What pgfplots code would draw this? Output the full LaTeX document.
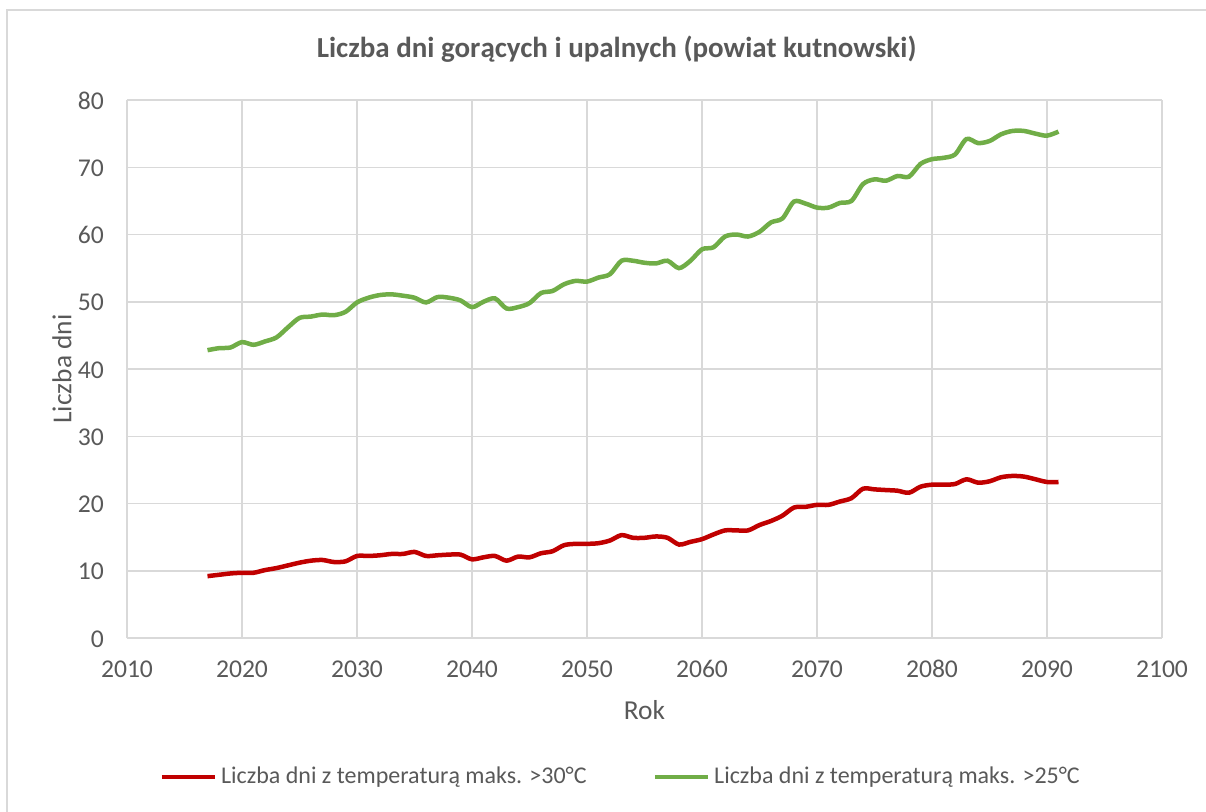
\documentclass[border=0pt]{standalone}
\usepackage{fontspec}
\setmainfont{Carlito}[Numbers=Lining]
\usepackage{pgfplots}
\pgfplotsset{compat=1.18}
\definecolor{txtgray}{HTML}{595959}
\definecolor{gridgray}{HTML}{D9D9D9}
\definecolor{hotred}{HTML}{C00000}
\definecolor{warmgreen}{HTML}{70AD47}

\begin{document}
\begin{tikzpicture}
  % page = 1206 x 811 px, 1 px = 0.5pt
  \useasboundingbox (0pt,0pt) rectangle (603pt,405.5pt);
  \draw[gridgray, line width=0.75pt] (3.5pt,-10pt) -- (3.5pt,400.5pt) -- (615pt,400.5pt);
  \begin{axis}[
      at={(63.5pt,86.5pt)}, anchor=south west,
      scale only axis,
      width=517.5pt, height=269pt,
      xmin=2010, xmax=2100, ymin=0, ymax=80,
      xtick={2010,2020,...,2100},
      ytick={0,10,...,80},
      grid=major,
      major grid style={gridgray, line width=0.75pt},
      axis line style={gridgray, line width=0.75pt},
      axis x line*=bottom, axis y line*=left,
      tick style={draw=none},
      tick label style={font=\fontsize{12.8}{15}\selectfont, text=txtgray},
      /pgf/number format/assume math mode=true,
      /pgf/number format/1000 sep={},
      xticklabel style={yshift=-7pt, text height=9pt, text depth=0pt},
      yticklabel style={xshift=-8pt, text height=9pt, text depth=0pt},
      xlabel={Rok}, ylabel={Liczba dni},
      label style={font=\fontsize{13.7}{16}\selectfont, text=txtgray},
      xlabel style={at={(rel axis cs:0.5,-0.134)}, anchor=center},
      ylabel style={at={(rel axis cs:-0.0628,0.5)}, anchor=center},
      legend columns=2,
      legend style={at={(0.478,-0.258)}, anchor=center, draw=none, fill=none,
        font=\fontsize{12}{14}\selectfont, text=txtgray,
        /tikz/every even column/.append style={column sep=31pt}},
      legend image code/.code={\draw[#1, line width=2.25pt] (0pt,0pt) -- (26.5pt,0pt);},
      clip=false,
    ]
    \addplot[hotred, line width=2.25pt, smooth] coordinates {
      (2017,9.2) (2018,9.4) (2019,9.6) (2020,9.7) (2021,9.7) (2022,10.1)
      (2023,10.4) (2024,10.8) (2025,11.2) (2026,11.5) (2027,11.6) (2028,11.3)
      (2029,11.4) (2030,12.2) (2031,12.2) (2032,12.3) (2033,12.5) (2034,12.5)
      (2035,12.8) (2036,12.2) (2037,12.3) (2038,12.4) (2039,12.4) (2040,11.7)
      (2041,12.0) (2042,12.2) (2043,11.5) (2044,12.1) (2045,12.0) (2046,12.6)
      (2047,12.9) (2048,13.8) (2049,14.0) (2050,14.0) (2051,14.1) (2052,14.5)
      (2053,15.3) (2054,14.9) (2055,14.9) (2056,15.1) (2057,14.9) (2058,13.9)
      (2059,14.3) (2060,14.7) (2061,15.4) (2062,16.0) (2063,16.0) (2064,16.0)
      (2065,16.8) (2066,17.4) (2067,18.2) (2068,19.4) (2069,19.5) (2070,19.8)
      (2071,19.8) (2072,20.3) (2073,20.8) (2074,22.2) (2075,22.1) (2076,22.0)
      (2077,21.9) (2078,21.6) (2079,22.5) (2080,22.8) (2081,22.8) (2082,22.9)
      (2083,23.6) (2084,23.1) (2085,23.3) (2086,23.9) (2087,24.1) (2088,24.0)
      (2089,23.6) (2090,23.2) (2091,23.2)
    };
    \addlegendentry{Liczba dni z temperaturą maks. >30°C}
    \addplot[warmgreen, line width=2.25pt, smooth] coordinates {
      (2017,42.8) (2018,43.1) (2019,43.2) (2020,44.0) (2021,43.6) (2022,44.1)
      (2023,44.7) (2024,46.2) (2025,47.6) (2026,47.8) (2027,48.1) (2028,48.0)
      (2029,48.5) (2030,49.9) (2031,50.6) (2032,51.0) (2033,51.1) (2034,50.9)
      (2035,50.6) (2036,49.9) (2037,50.7) (2038,50.6) (2039,50.2) (2040,49.2)
      (2041,50.0) (2042,50.5) (2043,49.0) (2044,49.2) (2045,49.8) (2046,51.3)
      (2047,51.6) (2048,52.6) (2049,53.1) (2050,53.0) (2051,53.6) (2052,54.1)
      (2053,56.1) (2054,56.1) (2055,55.8) (2056,55.7) (2057,56.1) (2058,55.0)
      (2059,56.1) (2060,57.8) (2061,58.1) (2062,59.7) (2063,60.0) (2064,59.7)
      (2065,60.4) (2066,61.8) (2067,62.4) (2068,64.9) (2069,64.6) (2070,64.0)
      (2071,64.0) (2072,64.7) (2073,65.0) (2074,67.5) (2075,68.2) (2076,68.0)
      (2077,68.7) (2078,68.6) (2079,70.5) (2080,71.2) (2081,71.4) (2082,71.9)
      (2083,74.2) (2084,73.6) (2085,73.9) (2086,74.9) (2087,75.4) (2088,75.4)
      (2089,75.0) (2090,74.7) (2091,75.3)
    };
    \addlegendentry{Liczba dni z temperaturą maks. >25°C}
    \node[font=\bfseries\fontsize{14.5}{17}\selectfont, text=txtgray]
      at (rel axis cs:0.473,1.095) {Liczba dni gorących i upalnych (powiat kutnowski)};
  \end{axis}
\end{tikzpicture}
\end{document}
